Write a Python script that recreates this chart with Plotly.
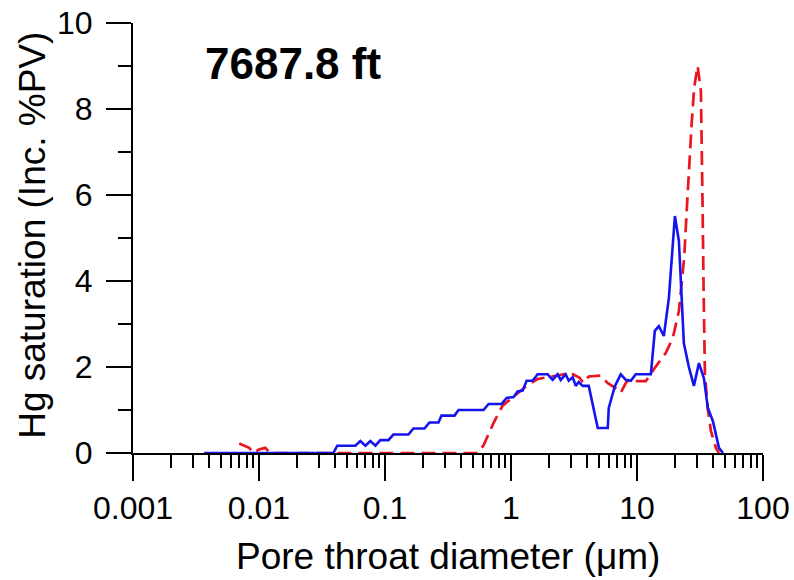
import plotly.graph_objects as go

# Blue (solid) curve: pore throat diameter (um) vs incremental Hg saturation (%PV)
blue_d = [0.00367, 0.0389, 0.0418, 0.0582, 0.0637, 0.0699, 0.0765, 0.0839, 0.0919, 0.1064,
          0.1166, 0.1535, 0.1681, 0.2057, 0.2254, 0.2658, 0.2808, 0.3562, 0.3833, 0.6057,
          0.6637, 0.8418, 0.9226, 1.049, 1.128, 1.237, 1.330, 1.485, 1.627, 1.954,
          2.141, 2.346, 2.479, 2.716, 2.87, 3.089, 3.263, 3.447, 3.709, 4.14,
          4.88, 5.86, 5.97, 6.66, 7.43, 8.15, 8.93, 9.78, 12.88, 13.85,
          14.91, 16.33, 17.9, 19.98, 21.5, 22.3, 23.55, 25.8, 28.29, 31.0,
          33.96, 36.5, 40.05, 44.7, 48.1]
blue_s = [0.0, 0.0, 0.17, 0.17, 0.28, 0.17, 0.28, 0.17, 0.30, 0.30,
          0.43, 0.43, 0.57, 0.57, 0.71, 0.71, 0.87, 0.87, 1.0, 1.0,
          1.14, 1.14, 1.28, 1.30, 1.43, 1.45, 1.68, 1.68, 1.83, 1.83,
          1.70, 1.83, 1.70, 1.83, 1.68, 1.76, 1.56, 1.65, 1.56, 1.56,
          0.58, 0.58, 1.05, 1.55, 1.83, 1.70, 1.68, 1.83, 1.83, 2.84,
          2.95, 2.72, 3.6, 5.51, 4.93, 3.84, 2.55, 2.0, 1.56, 2.09,
          1.74, 1.05, 0.74, 0.12, 0.0]

# Red (dashed) curve
red_d = [0.00696, 0.00836, 0.0090, 0.0100, 0.0112, 0.0123, 0.5427, 0.6057, 0.7273, 0.8574,
         1.088, 1.355, 1.627, 2.064, 2.977, 3.5, 3.75, 4.14, 5.15, 5.83,
         7.0, 7.43, 8.30, 11.75, 13.6, 16.94, 19.26, 21.5, 23.68, 24.88,
         25.96, 27.12, 28.44, 30.27, 32.15, 32.74, 33.16, 33.78, 34.16, 34.6,
         36.35, 38.6, 42.3, 44.7]
red_s = [0.22, 0.12, 0.0, 0.08, 0.12, 0.0, 0.0, 0.18, 0.70, 1.10,
         1.35, 1.58, 1.72, 1.78, 1.86, 1.75, 1.63, 1.78, 1.80, 1.63,
         1.48, 1.40, 1.67, 1.67, 1.95, 2.33, 2.68, 3.3, 4.54, 5.7,
         6.71, 7.64, 8.5, 9.0, 8.42, 7.26, 5.7, 3.77, 2.6, 1.84,
         1.05, 0.51, 0.12, 0.0]

x_tickvals = [0.001, 0.01, 0.1, 1, 10, 100]
x_ticktext = ["0.001", "0.01", "0.1", "1", "10", "100"]
y_tickvals = [0, 2, 4, 6, 8, 10]
y_ticktext = ["0", "2", "4", "6", "8", "10"]

x_minor = [m * 10 ** e for e in range(-3, 2) for m in range(2, 10)]

FONT = "Liberation Sans, Arial, Helvetica, sans-serif"

fig = go.Figure()
fig.add_trace(go.Scatter(x=red_d, y=red_s, mode="lines", cliponaxis=False,
                         line=dict(color="#ea1520", width=2.7, dash="14px,7px"),
                         showlegend=False))
fig.add_trace(go.Scatter(x=blue_d, y=blue_s, mode="lines", cliponaxis=False,
                         line=dict(color="#1414f0", width=2.6),
                         showlegend=False))

fig.update_layout(
    width=794, height=580, autosize=False,
    margin=dict(l=133, r=31, t=23, b=127, pad=0),
    paper_bgcolor="white", plot_bgcolor="white",
    font=dict(family=FONT, color="black"),
    xaxis=dict(type="log", range=[-3, 2], tickmode="array", automargin=False,
               tickvals=x_tickvals, ticktext=x_ticktext,
               ticks="outside", ticklen=26, tickwidth=2, tickcolor="black",
               tickfont=dict(size=32, family=FONT, color="black"),
               showline=True, linecolor="black", linewidth=2,
               showgrid=False, zeroline=False, layer="below traces",
               minor=dict(tickvals=x_minor, ticks="outside", ticklen=13,
                          tickwidth=2, tickcolor="black", showgrid=False)),
    yaxis=dict(range=[0, 10], tickmode="array", automargin=False,
               tickvals=y_tickvals, ticktext=y_ticktext,
               ticks="outside", ticklen=25, tickwidth=2, tickcolor="black",
               tickfont=dict(size=32, family=FONT, color="black"),
               ticklabelstandoff=7,
               showline=True, linecolor="black", linewidth=2,
               showgrid=False, zeroline=False, layer="below traces",
               minor=dict(dtick=1, ticks="outside", ticklen=13,
                          tickwidth=2, tickcolor="black", showgrid=False)),
    annotations=[
        dict(text="Pore throat diameter (\u03bcm)", xref="paper", yref="paper",
             x=0.5, y=-0.24, xanchor="center", yanchor="middle", showarrow=False,
             font=dict(size=37, family=FONT, color="black")),
        dict(text="Hg saturation (Inc. %PV)", xref="paper", yref="paper",
             x=-0.159, y=0.507, xanchor="center", yanchor="middle", showarrow=False,
             textangle=-90, font=dict(size=37, family=FONT, color="black")),
        dict(text="<b>7687.8 ft</b>", xref="paper", yref="paper",
             x=0.111, y=0.905, xanchor="left", yanchor="middle", showarrow=False,
             font=dict(size=44, family=FONT, color="black")),
    ],
)

fig.write_html("out.html")
